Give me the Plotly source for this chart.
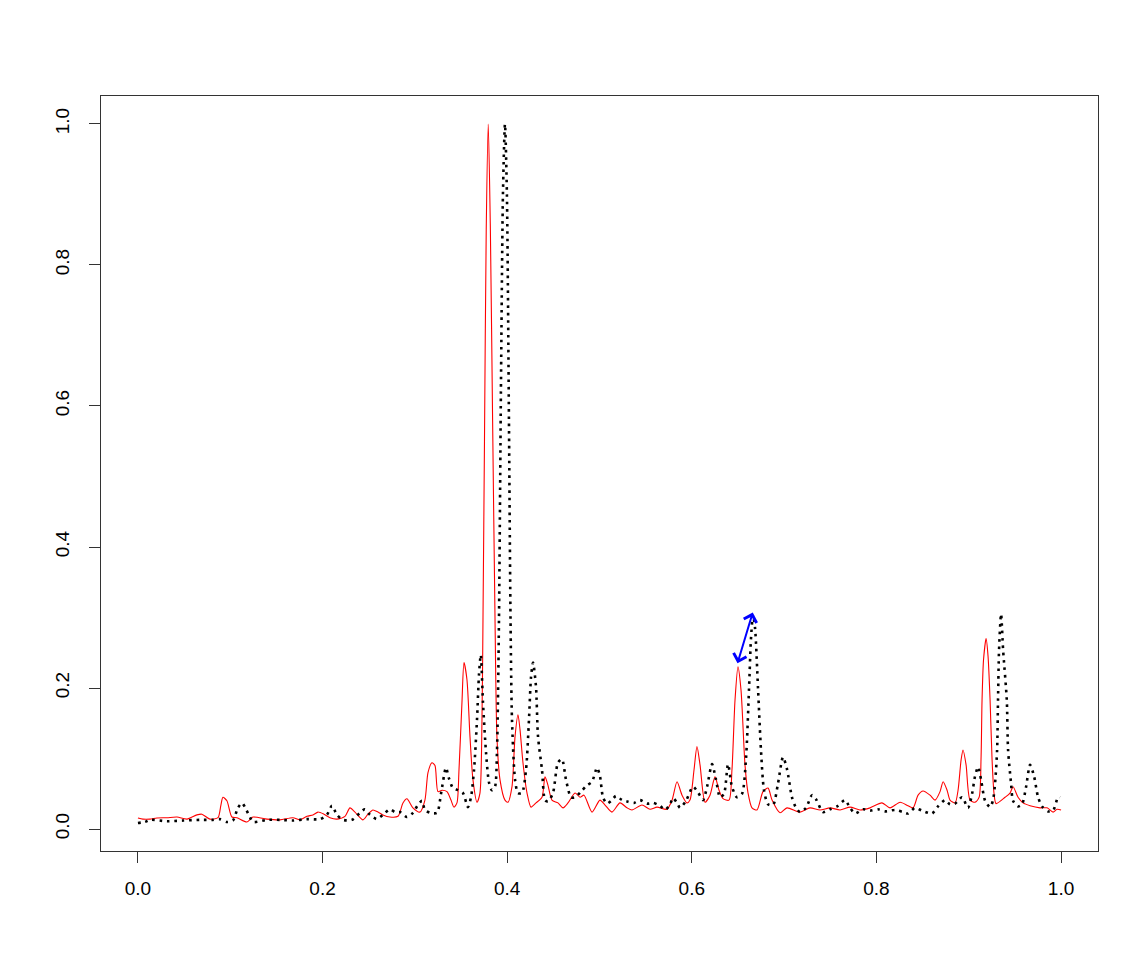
import plotly.graph_objects as go

# ---- data ----
red_x = [0.000, 0.0054, 0.013, 0.0206, 0.0314, 0.0423, 0.0531, 0.0639, 0.0693, 0.078,
         0.0867, 0.0899, 0.0921, 0.0964, 0.1018, 0.1073, 0.1181, 0.1246, 0.1398, 0.1538,
         0.1679, 0.1755, 0.1831, 0.1896, 0.195, 0.2015, 0.208, 0.2156, 0.2243, 0.2297,
         0.2351, 0.2438, 0.2492, 0.2546, 0.26, 0.2654, 0.273, 0.2817, 0.2871, 0.2914,
         0.2979, 0.3055, 0.3109, 0.3142, 0.3185, 0.3218, 0.325, 0.3294, 0.3348, 0.3391,
         0.3424, 0.3456, 0.3478, 0.351, 0.3532, 0.3564, 0.3597, 0.3629, 0.3673, 0.3705,
         0.3727, 0.3738, 0.3754, 0.3773, 0.3795, 0.3818, 0.3842, 0.3868, 0.3889, 0.3922,
         0.3976, 0.4009, 0.4052, 0.4085, 0.4117, 0.4139, 0.4171, 0.4215, 0.4258, 0.4312,
         0.4377, 0.441, 0.4442, 0.4485, 0.455, 0.4605, 0.4659, 0.4735, 0.4789, 0.4832,
         0.4919, 0.5005, 0.506, 0.5135, 0.5222, 0.5298, 0.5352, 0.546, 0.5547, 0.5623,
         0.5731, 0.5786, 0.584, 0.5894, 0.5948, 0.598, 0.6024, 0.6056, 0.6089, 0.6143,
         0.6197, 0.6251, 0.6295, 0.6338, 0.6403, 0.6435, 0.6468, 0.65, 0.6533, 0.6576,
         0.6609, 0.6652, 0.6706, 0.6771, 0.6826, 0.6869, 0.6956, 0.7031, 0.7172, 0.728,
         0.7389, 0.7497, 0.7606, 0.7714, 0.7822, 0.7931, 0.806, 0.8147, 0.8256, 0.8342,
         0.8397, 0.8451, 0.8505, 0.8581, 0.8635, 0.8689, 0.8722, 0.8765, 0.8797, 0.8852,
         0.8884, 0.8917, 0.8938, 0.8971, 0.9014, 0.9068, 0.9112, 0.9133, 0.9144, 0.916,
         0.9188, 0.9209, 0.9231, 0.9252, 0.9274, 0.9296, 0.9393, 0.9447, 0.948, 0.9534,
         0.9588, 0.9664, 0.9772, 0.9848, 0.9913, 0.9957, 1.000]
red_y = [0.0156, 0.014, 0.014, 0.0156, 0.016, 0.017, 0.014, 0.020, 0.021, 0.014,
         0.016, 0.034, 0.045, 0.040, 0.017, 0.016, 0.010, 0.017, 0.014, 0.013,
         0.016, 0.013, 0.018, 0.020, 0.024, 0.021, 0.016, 0.014, 0.018, 0.030,
         0.024, 0.013, 0.021, 0.027, 0.024, 0.020, 0.017, 0.018, 0.037, 0.043,
         0.030, 0.024, 0.041, 0.080, 0.094, 0.090, 0.053, 0.055, 0.053, 0.041,
         0.031, 0.037, 0.084, 0.179, 0.236, 0.212, 0.131, 0.070, 0.038, 0.051,
         0.155, 0.30, 0.55, 0.85, 1.0, 0.85, 0.58, 0.30, 0.131, 0.070,
         0.041, 0.038, 0.060, 0.131, 0.162, 0.141, 0.094, 0.051, 0.031, 0.037,
         0.045, 0.074, 0.062, 0.041, 0.037, 0.030, 0.037, 0.051, 0.045, 0.048,
         0.024, 0.041, 0.034, 0.024, 0.037, 0.030, 0.027, 0.034, 0.028, 0.031,
         0.028, 0.041, 0.067, 0.048, 0.037, 0.041, 0.084, 0.117, 0.091, 0.038,
         0.048, 0.074, 0.055, 0.043, 0.041, 0.084, 0.183, 0.230, 0.197, 0.091,
         0.051, 0.030, 0.027, 0.053, 0.058, 0.041, 0.023, 0.030, 0.024, 0.030,
         0.027, 0.030, 0.027, 0.031, 0.027, 0.030, 0.037, 0.030, 0.038, 0.033,
         0.030, 0.048, 0.054, 0.048, 0.041, 0.053, 0.067, 0.055, 0.041, 0.037,
         0.055, 0.098, 0.112, 0.091, 0.041, 0.038, 0.045, 0.100, 0.183, 0.240,
         0.270, 0.245, 0.183, 0.100, 0.050, 0.036, 0.045, 0.051, 0.060, 0.045,
         0.037, 0.033, 0.030, 0.030, 0.024, 0.028, 0.027]

black_x = [0.000, 0.0076, 0.013, 0.0314, 0.0488, 0.0672, 0.0813, 0.0888, 0.0964, 0.1029,
           0.1083, 0.1127, 0.1159, 0.1213, 0.1246, 0.1398, 0.1538, 0.1679, 0.1831, 0.1972,
           0.2047, 0.2102, 0.2156, 0.2221, 0.2318, 0.2405, 0.2459, 0.2514, 0.2589, 0.2654,
           0.273, 0.2784, 0.2838, 0.2914, 0.2979, 0.3033, 0.3077, 0.3109, 0.3164, 0.324,
           0.3283, 0.3337, 0.3369, 0.3413, 0.3467, 0.3521, 0.3575, 0.3608, 0.3641, 0.3673,
           0.3695, 0.3714, 0.3738, 0.3771, 0.3803, 0.3835, 0.3868, 0.3889, 0.3911, 0.3932,
           0.3954, 0.3976, 0.3997, 0.4019, 0.4036, 0.4052, 0.4085, 0.4117, 0.416, 0.4204,
           0.4236, 0.4258, 0.428, 0.4312, 0.4334, 0.4377, 0.441, 0.4442, 0.4496, 0.455,
           0.4593, 0.4637, 0.4691, 0.4735, 0.4799, 0.4864, 0.4919, 0.4973, 0.5005, 0.5038,
           0.5081, 0.5135, 0.5179, 0.5244, 0.5298, 0.5374, 0.5439, 0.5515, 0.558, 0.5655,
           0.571, 0.5764, 0.5796, 0.584, 0.5872, 0.5937, 0.6013, 0.6067, 0.6122, 0.6165,
           0.6219, 0.6262, 0.6306, 0.6349, 0.6392, 0.6435, 0.6489, 0.6544, 0.6587, 0.662,
           0.6641, 0.6663, 0.6685, 0.6717, 0.675, 0.6782, 0.6826, 0.688, 0.6934, 0.6988,
           0.7031, 0.7085, 0.7129, 0.7172, 0.7237, 0.7302, 0.7346, 0.7421, 0.7497, 0.7573,
           0.766, 0.7714, 0.7768, 0.7855, 0.7931, 0.8017, 0.8093, 0.8202, 0.8288, 0.8342,
           0.8418, 0.8494, 0.8602, 0.8667, 0.8743, 0.8797, 0.8852, 0.8927, 0.8992, 0.9036,
           0.9068, 0.9101, 0.9133, 0.9177, 0.9231, 0.9263, 0.9285, 0.9307, 0.9317, 0.9328,
           0.935, 0.9372, 0.9412, 0.9426, 0.9458, 0.948, 0.9534, 0.9577, 0.9621, 0.9664,
           0.9707, 0.9751, 0.9794, 0.9859, 0.9913, 0.9967, 0.9989]
black_y = [0.0085, 0.010, 0.013, 0.011, 0.012, 0.013, 0.013, 0.014, 0.010, 0.012,
           0.030, 0.037, 0.031, 0.017, 0.010, 0.013, 0.013, 0.012, 0.014, 0.014,
           0.020, 0.033, 0.020, 0.013, 0.013, 0.023, 0.028, 0.020, 0.014, 0.020,
           0.028, 0.024, 0.024, 0.017, 0.023, 0.034, 0.040, 0.027, 0.023, 0.023,
           0.050, 0.087, 0.072, 0.058, 0.055, 0.051, 0.031, 0.045, 0.084, 0.155,
           0.220, 0.247, 0.179, 0.108, 0.066, 0.055, 0.060, 0.108, 0.297, 0.62,
           0.90, 1.0, 0.90, 0.58, 0.30, 0.155, 0.070, 0.051, 0.051, 0.084,
           0.155, 0.215, 0.236, 0.202, 0.131, 0.084, 0.041, 0.039, 0.051, 0.094,
           0.099, 0.070, 0.045, 0.045, 0.053, 0.062, 0.067, 0.087, 0.075, 0.045,
           0.036, 0.041, 0.047, 0.041, 0.039, 0.037, 0.041, 0.036, 0.037, 0.033,
           0.027, 0.035, 0.044, 0.037, 0.030, 0.040, 0.060, 0.052, 0.041, 0.060,
           0.092, 0.070, 0.045, 0.050, 0.092, 0.060, 0.045, 0.050, 0.100, 0.200,
           0.270, 0.304, 0.285, 0.200, 0.110, 0.055, 0.035, 0.034, 0.065, 0.102,
           0.085, 0.045, 0.030, 0.024, 0.030, 0.048, 0.042, 0.024, 0.028, 0.032,
           0.041, 0.030, 0.022, 0.028, 0.026, 0.028, 0.025, 0.027, 0.024, 0.022,
           0.030, 0.026, 0.022, 0.032, 0.041, 0.035, 0.036, 0.045, 0.030, 0.050,
           0.075, 0.088, 0.070, 0.040, 0.031, 0.041, 0.065, 0.112, 0.183, 0.254,
           0.305, 0.254, 0.183, 0.112, 0.065, 0.040, 0.032, 0.035, 0.060, 0.091,
           0.075, 0.045, 0.032, 0.025, 0.026, 0.045, 0.045]

# double-headed arrow between the two peaks near x = 0.65
arrow_from = (0.649, 0.233)
arrow_to = (0.666, 0.307)

tick_vals = [0.0, 0.2, 0.4, 0.6, 0.8, 1.0]

fig = go.Figure()
fig.add_trace(go.Scatter(x=red_x, y=red_y, mode="lines",
                         line=dict(color="#ff0000", width=1.1, shape="spline", smoothing=0.7),
                         showlegend=False, hoverinfo="skip"))
fig.add_trace(go.Scatter(x=black_x, y=black_y, mode="lines",
                         line=dict(color="#000000", width=2.6, dash="2.6px,4.8px",
                                   shape="spline", smoothing=0.7),
                         showlegend=False, hoverinfo="skip"))

fig.add_annotation(x=arrow_to[0], y=arrow_to[1], ax=arrow_from[0], ay=arrow_from[1],
                   xref="x", yref="y", axref="x", ayref="y", text="",
                   showarrow=True, arrowhead=4, startarrowhead=4, arrowside="end+start",
                   arrowsize=1.3, startarrowsize=1.3, arrowwidth=2, arrowcolor="#0000ff")

font = dict(family="Liberation Sans, Arial, sans-serif", size=19, color="#000000")
fig.update_layout(
    width=1137, height=967,
    margin=dict(l=93, r=47, t=88, b=124),
    paper_bgcolor="white", plot_bgcolor="white",
    font=font,
    xaxis=dict(range=[-0.04, 1.04], tickvals=tick_vals, tickformat=".1f",
               showgrid=False, zeroline=False, showline=True, mirror=True,
               linecolor="#333333", linewidth=1, ticks="outside", ticklen=11,
               tickcolor="#333333", tickwidth=1, tickfont=font, ticklabelstandoff=9),
    yaxis=dict(range=[-0.0312, 1.0397], tickvals=tick_vals, tickformat=".1f",
               showgrid=False, zeroline=False, showline=True, mirror=True,
               linecolor="#333333", linewidth=1, ticks="outside", ticklen=11,
               tickcolor="#333333", tickwidth=1, tickangle=-90, tickfont=font,
               ticklabelstandoff=12),
)
fig.write_html("out.html")
